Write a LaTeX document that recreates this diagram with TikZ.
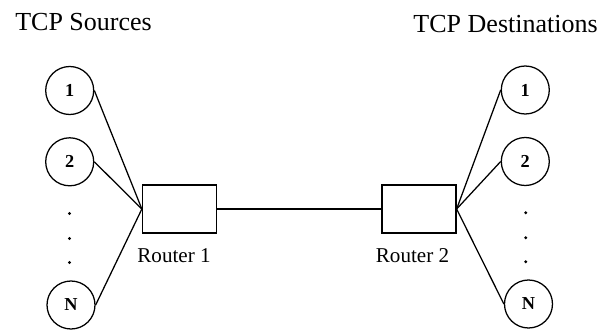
\documentclass[tikz,border=0pt]{standalone}
\usepackage{fontspec}
\setmainfont{Liberation Serif}
\usetikzlibrary{positioning}

\begin{document}
\begin{tikzpicture}[x=0.25mm, y=-0.25mm]
\tikzstyle{host}=[circle, minimum size=12mm, inner sep=0pt, line width=0.9pt, draw=black, font=\fontsize{13}{15}\selectfont\bfseries]
\tikzstyle{router}=[rectangle, minimum width=18.5mm, minimum height=12mm, line width=0.9pt, draw=black]
\tikzstyle{dot}=[circle, fill=black, inner sep=0pt, minimum size=0.8mm]
\tikzstyle{title}=[inner sep=0pt, font=\fontsize{18.5}{22}\selectfont]
\tikzstyle{rlabel}=[inner sep=0pt, anchor=base, font=\fontsize{15}{18}\selectfont]
\tikzstyle{connect}=[-, line width=0.9pt]
\useasboundingbox (0,0) rectangle (613,333);
% headings
\node[title, anchor=base west] (srctitle) at (15, 30) {TCP Sources};
\node[title, anchor=base east] (dsttitle) at (598, 32) {TCP Destinations};
% sources
\node[host] (s1) at (69.7, 90.5) {1};
\node[host] (s2) at (69.7, 161.8) {2};
\node[host] (sn) at (71, 305) {N};
\node[dot] (sd1) at (69.5, 213.5) {};
\node[dot] (sd2) at (69.5, 238.5) {};
\node[dot] (sd3) at (69.5, 262.5) {};
% destinations
\node[host] (d1) at (525.3, 90) {1};
\node[host] (d2) at (525.3, 161.5) {2};
\node[host] (dn) at (528.5, 304) {N};
\node[dot] (dd1) at (525.7, 212.7) {};
\node[dot] (dd2) at (525.7, 237.7) {};
\node[dot] (dd3) at (525.7, 261.7) {};
% routers
\node[router] (r1) at (179.5, 209) {};
\node[router] (r2) at (419, 209) {};
\node[rlabel] (r1lab) at (174, 262.7) {Router 1};
\node[rlabel] (r2lab) at (412.5, 262.7) {Router 2};
% links
\path (s1.east) edge [connect] (r1.west);
\path (s2.east) edge [connect] (r1.west);
\path (sn.east) edge [connect] (r1.west);
\path (r1) edge [connect] (r2);
\path (r2.east) edge [connect] (d1.west);
\path (r2.east) edge [connect] (d2.west);
\path (r2.east) edge [connect] (dn.west);
\end{tikzpicture}
\end{document}
